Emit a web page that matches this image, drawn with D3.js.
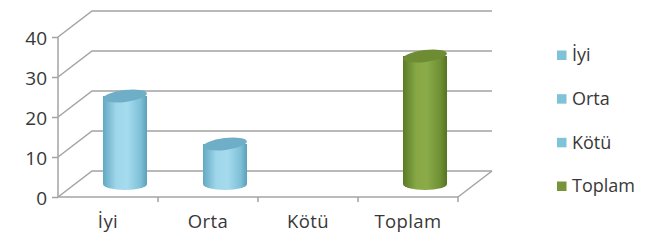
<!DOCTYPE html>
<html><head><meta charset="utf-8">
<script src="https://cdn.jsdelivr.net/npm/d3@7"></script>
<style>
html,body{margin:0;padding:0;background:#fff;}
svg{display:block;}
text{font-family:"Open Sans",sans-serif;fill:#383838;}
</style></head>
<body><svg id="c" width="659" height="242"></svg>
<script>
const categories = ["İyi", "Orta", "Kötü", "Toplam"];
const values = [22, 10, 0, 32];
const yTicks = [0, 10, 20, 30, 40];
const legendLabels = ["İyi", "Orta", "Kötü", "Toplam"];
const seriesColor = {"İyi":"blue","Orta":"blue","Kötü":"blue","Toplam":"green"};

(function(){
const svg = d3.select("#c");
const pLeft = 58, pRight = 458, pBottom = 197, pTop = 37;
const dx = 34, dy = -26;
const x = d3.scaleBand().domain(categories).range([pLeft, pRight]).padding(0);
const y = d3.scaleLinear().domain([0, 40]).range([pBottom, pTop]);
const grid = "#a3a3a3";
const txt = "#383838";

const defs = svg.append("defs");
const grads = {
  blue: [["0%","#62a9c3"],["30%","#9fd6ea"],["55%","#a6dbee"],["85%","#7fc1d8"],["100%","#5c9fb9"]],
  green: [["0%","#5a7a26"],["30%","#87a845"],["55%","#8aab48"],["85%","#6f8f34"],["100%","#56741f"]]
};
Object.entries(grads).forEach(([k, stops]) => {
  const g = defs.append("linearGradient").attr("id", "g-" + k).attr("x1","0").attr("x2","1").attr("y1","0").attr("y2","0");
  stops.forEach(s => g.append("stop").attr("offset", s[0]).attr("stop-color", s[1]));
});
const topFill = {blue: "#6eaec6", green: "#6d8c33"};
const legendFill = {blue: "#7fc3d8", green: "#77933c"};

const gl = svg.append("g").attr("stroke", grid).attr("stroke-width", 1.5).attr("fill", "none");
yTicks.forEach(t => {
  gl.append("path").attr("d", `M${pLeft},${y(t)} L${pLeft+dx},${y(t)+dy} L${pRight+dx},${y(t)+dy}`);
});
gl.append("path").attr("d", `M${pRight},${pBottom} L${pRight+dx},${pBottom+dy}`);

const bw = x.bandwidth() * 0.44, rx = bw / 2, ry = 6;
const bars = svg.append("g");
categories.forEach((c, i) => {
  const v = values[i];
  if (v <= 0) return;
  const col = seriesColor[c];
  const cx = x(c) + x.bandwidth() / 2 + dx / 2;
  const y0 = y(0) + dy / 2, y1 = y(v) + dy / 2;
  bars.append("path")
    .attr("d", `M${cx-rx},${y1} L${cx-rx},${y0} A${rx},${ry} 0 0 0 ${cx+rx},${y0} L${cx+rx},${y1} Z`)
    .attr("fill", `url(#g-${col})`);
  bars.append("ellipse").attr("cx", cx).attr("cy", y1).attr("rx", rx).attr("ry", ry)
    .attr("transform", `rotate(-7,${cx},${y1})`)
    .attr("fill", topFill[col]);
});

const ax = d3.axisLeft(y).tickValues(yTicks).tickSize(6).tickPadding(5);
const gy = svg.append("g").attr("transform", `translate(${pLeft},0)`).call(ax);
gy.select(".domain").attr("stroke", grid).attr("stroke-width", 1.5).attr("d", `M0,${pTop}V${pBottom}`);
gy.selectAll(".tick line").attr("stroke", grid).attr("stroke-width", 1.5);
gy.selectAll(".tick text").attr("font-size", 19).attr("font-family", "Open Sans").attr("fill", txt).attr("dy", "0.4em");

const bx = d3.axisBottom(x).tickSize(0).tickPadding(20);
const gx = svg.append("g").attr("transform", `translate(0,${pBottom})`).call(bx);
gx.select(".domain").attr("stroke", grid).attr("stroke-width", 1.5).attr("d", `M${pLeft},0H${pRight}`);
gx.selectAll(".tick text").attr("font-size", 18.5).attr("letter-spacing", "0.4px").attr("font-family", "Open Sans").attr("fill", txt).attr("dy", "0.58em");
const bounds = categories.map(c => x(c) + x.bandwidth());
gx.selectAll(".bt").data(bounds).enter().append("line")
  .attr("x1", d => d).attr("x2", d => d).attr("y1", 0).attr("y2", 5)
  .attr("stroke", grid).attr("stroke-width", 1.5);

const lg = svg.append("g");
const ly = d3.scalePoint().domain(legendLabels).range([55, 186]);
legendLabels.forEach(l => {
  lg.append("rect").attr("x", 557).attr("y", ly(l) - 4.5).attr("width", 9.5).attr("height", 9.5)
    .attr("fill", legendFill[seriesColor[l]]);
  lg.append("text").attr("x", 572).attr("y", ly(l)).attr("dy", "0.35em")
    .attr("font-size", 18).attr("fill", txt).text(l);
});
})();
</script></body></html>
